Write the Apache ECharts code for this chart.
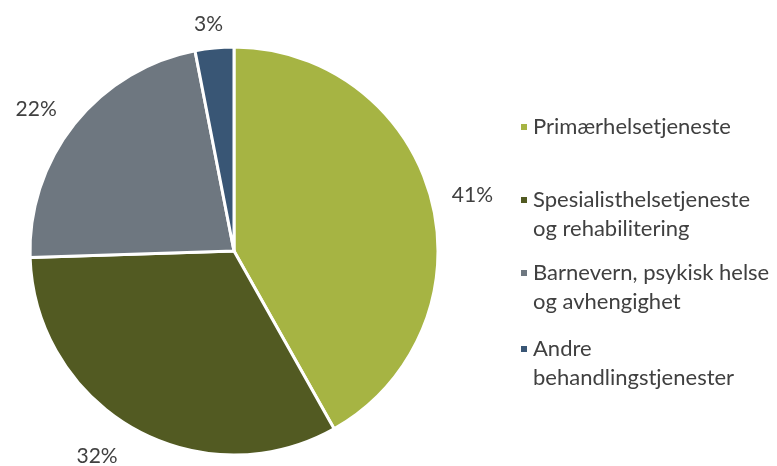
<!DOCTYPE html>
<html>
<head>
<meta charset="utf-8">
<script src="https://cdn.jsdelivr.net/npm/echarts@6/dist/echarts.min.js"></script>
<style>
html,body{margin:0;padding:0;background:#fff;}
#main{width:777px;height:466px;}
</style>
</head>
<body>
<div id="main"></div>
<script>
var categories=['Primærhelsetjeneste','Spesialisthelsetjeneste og rehabilitering','Barnevern, psykisk helse og avhengighet','Andre behandlingstjenester'];
var legendNames=['Primærhelsetjeneste','Spesialisthelsetjeneste\nog rehabilitering','Barnevern, psykisk helse\nog avhengighet','Andre\nbehandlingstjenester'];
var shares=[41,32,22,3];
var colors=['#A6B443','#525A22','#6E7780','#395675'];
// distance of each percent label from the pie edge
var labelLens=[16,31,24,24];
var labelLens2=[0,-4,-6,-16];

var fontName='Lato, "Open Sans", sans-serif';
var lh=29;

function makeLegend(i,iconY){
    var twoLines=legendNames[i].indexOf('\n')>=0;
    var boxH=twoLines ? lh*3 : lh;
    return {
        orient:'vertical',
        left:519,
        top:iconY-boxH/2,
        padding:0,
        icon:'rect',
        itemWidth:8,
        itemHeight:8,
        itemGap:0,
        selectedMode:false,
        data:[categories[i]],
        formatter:function(name){
            var s=legendNames[categories.indexOf(name)];
            // empty first line keeps the icon level with the first text line
            return twoLines ? '\n'+s : s;
        },
        textStyle:{
            fontFamily:fontName,
            fontSize:22,
            color:'#404040',
            lineHeight:lh
        }
    };
}

var myChart=echarts.init(document.getElementById('main'));
var pieData=[];
for(var i=0;i<categories.length;i++){
    pieData.push({name:categories[i],value:shares[i],labelLine:{length:labelLens[i],length2:labelLens2[i]}});
}
var option={
    animation:false,
    color:colors,
    legend:[
        makeLegend(0,127),
        makeLegend(1,200),
        makeLegend(2,273),
        makeLegend(3,349)
    ],
    series:[{
        type:'pie',
        center:[234,251],
        radius:[0,204],
        startAngle:90,
        clockwise:true,
        avoidLabelOverlap:false,
        itemStyle:{borderColor:'#fff',borderWidth:3},
        label:{
            show:true,
            position:'outside',
            formatter:'{c}%',
            fontFamily:fontName,
            fontSize:21,
            color:'#404040'
        },
        labelLine:{show:false,length:20,length2:0},
        emphasis:{disabled:true},
        data:pieData
    }]
};
myChart.setOption(option);
</script>
</body>
</html>
